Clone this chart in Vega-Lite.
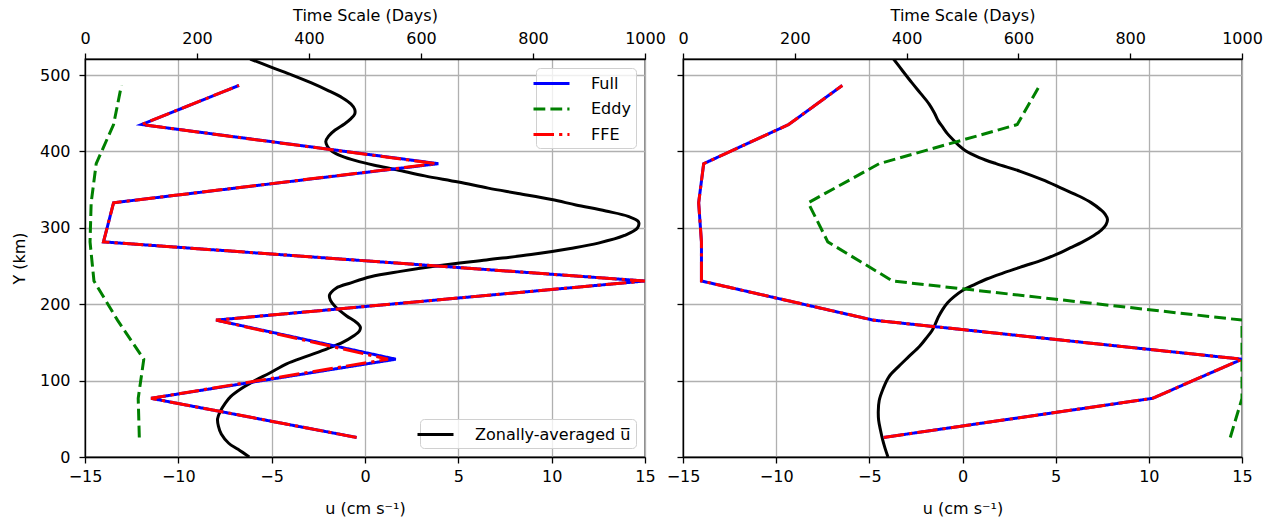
{
  "$schema": "https://vega.github.io/schema/vega-lite/v6.json",
  "padding": {"left": 10, "top": 6, "right": 5, "bottom": 5},
  "background": "white",
  "spacing": 38,
  "bounds": "flush",
  "config": {
    "font": "DejaVu Sans",
    "view": {"stroke": "black", "strokeWidth": 1.3},
    "axis": {
      "labelFont": "DejaVu Sans", "labelFontSize": 16, "labelColor": "black",
      "titleFont": "DejaVu Sans", "titleFontSize": 16, "titleFontWeight": "normal", "titleColor": "black",
      "domainColor": "black", "domainWidth": 1.3,
      "tickColor": "black", "tickWidth": 1.3, "tickSize": 6,
      "labelPadding": 5, "labelFlush": false, "labelOverlap": false, "format": "d",
      "gridColor": "#b0b0b0", "gridWidth": 1.3
    },
    "legend": {
      "labelFont": "DejaVu Sans", "labelFontSize": 16, "labelColor": "black",
      "symbolType": "M-2,0H2", "symbolSize": 324, "symbolStrokeWidth": 3,
      "labelOffset": 29, "rowPadding": 6.5, "padding": 5, "offset": 9,
      "fillColor": "rgba(255,255,255,0.8)", "strokeColor": "#d0d0d0", "cornerRadius": 4
    }
  },
  "datasets": {
    "uLeft": [
      {"y":0,"u":-6.2},{"y":10,"u":-6.8},{"y":18,"u":-7.3},{"y":30,"u":-7.7},{"y":40,"u":-7.85},{"y":50,"u":-7.9},{"y":60,"u":-7.75},{"y":70,"u":-7.5},{"y":79,"u":-7.2},{"y":90,"u":-6.6},{"y":100,"u":-5.9},{"y":110,"u":-5.1},{"y":122,"u":-4.2},{"y":132,"u":-3.1},{"y":142,"u":-2.0},{"y":150,"u":-1.2},{"y":158,"u":-0.64},{"y":165,"u":-0.3},{"y":170,"u":-0.25},{"y":176,"u":-0.45},{"y":185,"u":-1.0},{"y":197,"u":-1.6},{"y":205,"u":-1.85},{"y":212,"u":-1.9},{"y":221,"u":-1.55},{"y":228,"u":-0.75},{"y":236,"u":0.3},{"y":243,"u":1.9},{"y":250,"u":3.8},{"y":258,"u":6.5},{"y":265,"u":8.9},{"y":273,"u":11.0},{"y":280,"u":12.5},{"y":290,"u":13.9},{"y":300,"u":14.6},{"y":308,"u":14.65},{"y":315,"u":14.1},{"y":322,"u":12.9},{"y":330,"u":11.3},{"y":337,"u":10.0},{"y":345,"u":8.2},{"y":352,"u":6.6},{"y":360,"u":5.0},{"y":368,"u":3.2},{"y":376,"u":1.7},{"y":382,"u":0.5},{"y":388,"u":-0.5},{"y":394,"u":-1.25},{"y":400,"u":-1.75},{"y":406,"u":-2.0},{"y":413,"u":-2.1},{"y":420,"u":-1.95},{"y":428,"u":-1.6},{"y":436,"u":-1.1},{"y":443,"u":-0.75},{"y":449,"u":-0.55},{"y":455,"u":-0.55},{"y":462,"u":-0.75},{"y":470,"u":-1.2},{"y":480,"u":-2.0},{"y":490,"u":-2.9},{"y":500,"u":-3.9},{"y":510,"u":-5.0},{"y":521,"u":-6.15}
    ],
    "uRight": [
      {"y":0,"u":-4.0},{"y":11,"u":-4.15},{"y":22,"u":-4.28},{"y":35,"u":-4.4},{"y":48,"u":-4.5},{"y":60,"u":-4.52},{"y":74,"u":-4.47},{"y":90,"u":-4.25},{"y":105,"u":-3.95},{"y":118,"u":-3.45},{"y":131,"u":-2.9},{"y":145,"u":-2.3},{"y":157,"u":-1.9},{"y":165,"u":-1.65},{"y":173,"u":-1.48},{"y":183,"u":-1.3},{"y":193,"u":-1.07},{"y":202,"u":-0.8},{"y":210,"u":-0.45},{"y":218,"u":0.0},{"y":225,"u":0.58},{"y":233,"u":1.3},{"y":241,"u":2.2},{"y":250,"u":3.3},{"y":258,"u":4.3},{"y":266,"u":5.1},{"y":274,"u":5.8},{"y":281,"u":6.4},{"y":290,"u":7.05},{"y":297,"u":7.45},{"y":304,"u":7.7},{"y":311,"u":7.78},{"y":318,"u":7.65},{"y":324,"u":7.4},{"y":333,"u":6.9},{"y":341,"u":6.3},{"y":352,"u":5.3},{"y":363,"u":4.28},{"y":374,"u":3.1},{"y":384,"u":1.8},{"y":392,"u":0.9},{"y":401,"u":0.16},{"y":408,"u":-0.2},{"y":414,"u":-0.45},{"y":423,"u":-0.8},{"y":432,"u":-1.07},{"y":440,"u":-1.3},{"y":450,"u":-1.5},{"y":462,"u":-1.79},{"y":476,"u":-2.25},{"y":490,"u":-2.72},{"y":505,"u":-3.2},{"y":521,"u":-3.7}
    ],
    "tLeft": [
      {"series":"Full","y":25.6,"days":485},{"series":"Full","y":76.8,"days":118},{"series":"Full","y":128,"days":555},{"series":"Full","y":179.2,"days":234},{"series":"Full","y":230.4,"days":1000},{"series":"Full","y":281.6,"days":33},{"series":"Full","y":332.8,"days":51},{"series":"Full","y":384,"days":631},{"series":"Full","y":435.2,"days":101},{"series":"Full","y":486.4,"days":275},
      {"series":"Eddy","y":25.6,"days":97},{"series":"Eddy","y":76.8,"days":95},{"series":"Eddy","y":128,"days":105},{"series":"Eddy","y":179.2,"days":58},{"series":"Eddy","y":230.4,"days":16},{"series":"Eddy","y":281.6,"days":9},{"series":"Eddy","y":332.8,"days":11},{"series":"Eddy","y":384,"days":20},{"series":"Eddy","y":435.2,"days":51},{"series":"Eddy","y":486.4,"days":65},
      {"series":"FFE","y":25.6,"days":485},{"series":"FFE","y":76.8,"days":118},{"series":"FFE","y":128,"days":541},{"series":"FFE","y":179.2,"days":234},{"series":"FFE","y":230.4,"days":1000},{"series":"FFE","y":281.6,"days":33},{"series":"FFE","y":332.8,"days":51},{"series":"FFE","y":384,"days":627},{"series":"FFE","y":435.2,"days":101},{"series":"FFE","y":486.4,"days":275}
    ],
    "tRight": [
      {"series":"Full","y":25.6,"days":359},{"series":"Full","y":76.8,"days":840},{"series":"Full","y":128,"days":1000},{"series":"Full","y":179.2,"days":340},{"series":"Full","y":230.4,"days":33},{"series":"Full","y":281.6,"days":33},{"series":"Full","y":332.8,"days":28},{"series":"Full","y":384,"days":37},{"series":"Full","y":435.2,"days":189},{"series":"Full","y":486.4,"days":285},
      {"series":"Eddy","y":25.6,"days":979},{"series":"Eddy","y":76.8,"days":1000},{"series":"Eddy","y":128,"days":1000},{"series":"Eddy","y":179.2,"days":1000},{"series":"Eddy","y":230.4,"days":375},{"series":"Eddy","y":281.6,"days":259},{"series":"Eddy","y":332.8,"days":224},{"series":"Eddy","y":384,"days":351},{"series":"Eddy","y":435.2,"days":598},{"series":"Eddy","y":486.4,"days":638},
      {"series":"FFE","y":25.6,"days":359},{"series":"FFE","y":76.8,"days":840},{"series":"FFE","y":128,"days":1000},{"series":"FFE","y":179.2,"days":340},{"series":"FFE","y":230.4,"days":33},{"series":"FFE","y":281.6,"days":33},{"series":"FFE","y":332.8,"days":28},{"series":"FFE","y":384,"days":37},{"series":"FFE","y":435.2,"days":189},{"series":"FFE","y":486.4,"days":285}
    ]
  },
  "hconcat": [
    {
      "width": 560, "height": 398,
      "layer": [
        {
          "data": {"name": "uLeft"},
          "mark": {"type": "line", "strokeWidth": 3, "clip": true, "interpolate": "catmull-rom"},
          "encoding": {
            "x": {"field": "u", "type": "quantitative", "scale": {"domain": [-15, 15], "nice": false, "zero": false},
                  "axis": {"orient": "bottom", "title": "u (cm s⁻¹)", "values": [-15, -10, -5, 0, 5, 10, 15], "grid": true, "titlePadding": 16}},
            "y": {"field": "y", "type": "quantitative", "scale": {"domain": [0, 521], "nice": false, "zero": false},
                  "axis": {"title": "Y (km)", "values": [0, 100, 200, 300, 400, 500], "grid": true, "labelPadding": 9, "titlePadding": 12}},
            "order": {"field": "y", "type": "quantitative"},
            "color": {"datum": "Zonally-averaged u̅", "type": "nominal", "scale": {"domain": ["Zonally-averaged u̅"], "range": ["black"]},
                      "legend": {"title": null, "orient": "bottom-right"}}
          }
        },
        {
          "data": {"name": "tLeft"},
          "encoding": {
            "x": {"field": "days", "type": "quantitative", "scale": {"domain": [0, 1000], "nice": false, "zero": false},
                  "axis": {"orient": "top", "title": "Time Scale (Days)", "values": [0, 200, 400, 600, 800, 1000], "grid": false, "labelPadding": 7, "titlePadding": 7}},
            "y": {"field": "y", "type": "quantitative", "scale": {"domain": [0, 521], "nice": false, "zero": false},
                  "axis": {"title": "Y (km)", "values": [0, 100, 200, 300, 400, 500], "grid": true, "labelPadding": 9, "titlePadding": 12}},
            "order": {"field": "y", "type": "quantitative"},
            "color": {"field": "series", "type": "nominal", "scale": {"domain": ["Full", "Eddy", "FFE"], "range": ["#0000ff", "#008000", "#ff0000"]},
                      "legend": {"title": null, "orient": "top-right"}},
            "strokeDash": {"field": "series", "type": "nominal", "scale": {"domain": ["Full", "Eddy", "FFE"], "range": [[1, 0], [11.8, 5.1], [20.5, 5.1, 3.2, 5.1]]},
                      "legend": {"title": null, "orient": "top-right"}}
          },
          "layer": [
            {"transform": [{"filter": "datum.series === 'Full'"}], "mark": {"type": "line", "strokeWidth": 3, "clip": true}},
            {"transform": [{"filter": "datum.series === 'Eddy'"}], "mark": {"type": "line", "strokeWidth": 3, "clip": true}},
            {"transform": [{"filter": "datum.series === 'FFE'"}], "mark": {"type": "line", "strokeWidth": 3, "clip": true}}
          ]
        }
      ],
      "resolve": {"scale": {"x": "independent", "color": "independent", "strokeDash": "independent"}}
    },
    {
      "width": 559, "height": 398,
      "layer": [
        {
          "data": {"name": "uRight"},
          "mark": {"type": "line", "strokeWidth": 3, "clip": true, "color": "black", "interpolate": "catmull-rom"},
          "encoding": {
            "x": {"field": "u", "type": "quantitative", "scale": {"domain": [-15, 15], "nice": false, "zero": false},
                  "axis": {"orient": "bottom", "title": "u (cm s⁻¹)", "values": [-15, -10, -5, 0, 5, 10, 15], "grid": true, "titlePadding": 16}},
            "y": {"field": "y", "type": "quantitative", "scale": {"domain": [0, 521], "nice": false, "zero": false},
                  "axis": {"title": null, "labels": false, "values": [0, 100, 200, 300, 400, 500], "grid": true}},
            "order": {"field": "y", "type": "quantitative"}
          }
        },
        {
          "data": {"name": "tRight"},
          "encoding": {
            "x": {"field": "days", "type": "quantitative", "scale": {"domain": [0, 1000], "nice": false, "zero": false},
                  "axis": {"orient": "top", "title": "Time Scale (Days)", "values": [0, 200, 400, 600, 800, 1000], "grid": false, "labelPadding": 7, "titlePadding": 7}},
            "y": {"field": "y", "type": "quantitative", "scale": {"domain": [0, 521], "nice": false, "zero": false},
                  "axis": {"title": null, "labels": false, "values": [0, 100, 200, 300, 400, 500], "grid": true}},
            "order": {"field": "y", "type": "quantitative"},
            "color": {"field": "series", "type": "nominal", "scale": {"domain": ["Full", "Eddy", "FFE"], "range": ["#0000ff", "#008000", "#ff0000"]}, "legend": null},
            "strokeDash": {"field": "series", "type": "nominal", "scale": {"domain": ["Full", "Eddy", "FFE"], "range": [[1, 0], [11.8, 5.1], [20.5, 5.1, 3.2, 5.1]]}, "legend": null}
          },
          "layer": [
            {"transform": [{"filter": "datum.series === 'Full'"}], "mark": {"type": "line", "strokeWidth": 3, "clip": true}},
            {"transform": [{"filter": "datum.series === 'Eddy'"}], "mark": {"type": "line", "strokeWidth": 3, "clip": true}},
            {"transform": [{"filter": "datum.series === 'FFE'"}], "mark": {"type": "line", "strokeWidth": 3, "clip": true}}
          ]
        }
      ],
      "resolve": {"scale": {"x": "independent"}}
    }
  ]
}
